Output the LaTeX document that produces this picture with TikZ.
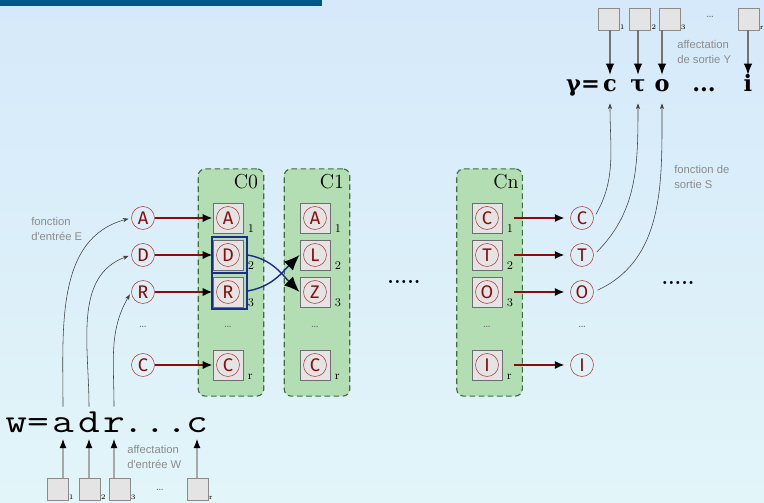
\documentclass[tikz,border=0pt]{standalone}
\usepackage{fontspec}
\usepackage{tikz}
\usetikzlibrary{arrows.meta,calc,positioning}
\newfontfamily\AutSans{Liberation Sans}
\newfontfamily\AutHand{Fira Sans}
\newfontfamily\AutGreek{DejaVu Serif}
\definecolor{AutSkyTop}{HTML}{D5E9FA}
\definecolor{AutSkyLow}{HTML}{E2F5F9}
\definecolor{AutBar}{HTML}{00578A}
\definecolor{AutGreen}{HTML}{B3DEB3}
\definecolor{AutGreenEdge}{HTML}{3E6E3E}
\definecolor{AutCellFill}{HTML}{E4E4E4}
\definecolor{AutCellEdge}{HTML}{6E6E6E}
\definecolor{AutRed}{HTML}{8C0C0C}
\definecolor{AutRedLine}{HTML}{B23A3A}
\definecolor{AutNavy}{HTML}{1C2C8C}
\definecolor{AutNote}{HTML}{8C8C8C}
\definecolor{AutShaft}{HTML}{A8A8A8}
\tikzset{
  cbox/.style={draw=AutGreenEdge,line width=0.8pt,dash pattern=on 4pt off 2.5pt,fill=AutGreen,rounded corners=5pt,minimum width=1.64cm,minimum height=5.68cm,inner sep=0pt},
  cname/.style={font=\fontsize{14.4}{14.4}\selectfont},
  cell/.style={draw=AutCellEdge,fill=AutCellFill,minimum size=0.76cm,inner sep=0pt},
  ltr/.style={circle,draw=AutRedLine,text=AutRed,minimum size=0.575cm,inner sep=0pt,font=\AutHand\fontsize{13}{13}\selectfont},
  idx/.style={anchor=south west,inner sep=0.5pt,xshift=2.5pt,font=\fontsize{8.5}{8.5}\selectfont},
  slot/.style={draw=AutCellEdge!80,fill=AutCellFill,minimum width=0.52cm,minimum height=0.55cm,inner sep=0pt},
  sidx/.style={anchor=south west,inner sep=0.3pt,font=\fontsize{5}{5}\selectfont},
  vdots/.style={text=black!60,font=\fontsize{8}{8}\selectfont},
  hdots/.style={font=\bfseries\fontsize{15}{15}\selectfont},
  note/.style={anchor=north west,align=left,text=AutNote,inner sep=0pt,font=\AutSans\fontsize{8}{10.7}\selectfont},
  wch/.style={anchor=base,inner sep=1pt,text height=17.5pt,text depth=2.5pt,font=\ttfamily\fontsize{24}{24}\selectfont},
  ych/.style={anchor=base,inner sep=2pt,text height=10pt,text depth=6pt,font=\AutGreek\bfseries\fontsize{16}{16}\selectfont},
  redarr/.style={draw=AutRed,line width=1.6pt,-{Latex[length=7pt,width=6pt,color=black]}},
  bluearr/.style={draw=AutNavy,line width=1pt,-{Latex[length=11pt,width=9pt,color=black]}},
  bluebox/.style={draw=AutNavy,line width=0.9pt,minimum width=0.875cm,minimum height=0.9cm,inner sep=0pt},
  inarr/.style={draw=AutShaft,line width=1.4pt,-{Latex[length=7pt,width=5pt,color=black]}},
  outarr/.style={draw=black!55,line width=0.8pt,-{Latex[length=8pt,width=6pt,color=black]}},
  fnarr/.style={draw=black!75,line width=0.4pt,-{Stealth[length=4pt,width=3pt]}}
}
\newcommand{\AutCell}[5]{%
  \node[cell] (#1) at (#2,#3) {};
  \node[ltr] (#1l) at (#1) {#4};
  \node[idx] (#1i) at (#1.south east) {#5};}
\newcommand{\AutSlot}[4]{%
  \node[slot] (#1) at (#2,#3) {};
  \node[sidx] (#1i) at (#1.south east) {#4};}
\newcommand{\AutWide}[1]{\scalebox{1.25}[1]{#1}}

\begin{document}
\begin{tikzpicture}[x=0.025cm,y=0.025cm]
  \shade[top color=AutSkyTop,bottom color=AutSkyLow] (0,0) rectangle (764,503);
  \useasboundingbox (0,0) rectangle (764,503);
  \fill[AutBar] (0,497) rectangle (322,503);

  \node[cbox] (C0) at (231,220.5) {};
  \node[cbox] (C1) at (317,220.5) {};
  \node[cbox] (Cn) at (489.5,220.5) {};
  \node[cname] (C0t) at (246,321) {C0};
  \node[cname] (C1t) at (332,321) {C1};
  \node[cname] (Cnt) at (506,321) {Cn};

  \AutCell{c0-1}{228}{285}{A}{1}
  \AutCell{c0-2}{228}{248}{D}{2}
  \AutCell{c0-3}{228}{211}{R}{3}
  \AutCell{c0-r}{228}{138}{C}{r}
  \node[vdots] (c0dots) at (228,176) {\dots};
  \node[bluebox] (blueD) at (229.5,248) {};
  \node[bluebox] (blueR) at (229.5,212) {};

  \AutCell{c1-1}{315}{285}{A}{1}
  \AutCell{c1-2}{315}{248}{L}{2}
  \AutCell{c1-3}{315}{211}{Z}{3}
  \AutCell{c1-r}{315}{138}{C}{r}
  \node[vdots] (c1dots) at (315,176) {\dots};

  \AutCell{cn-1}{487}{285}{C}{1}
  \AutCell{cn-2}{487}{248}{T}{2}
  \AutCell{cn-3}{487}{211}{O}{3}
  \AutCell{cn-r}{487}{138}{I}{r}
  \node[vdots] (cndots) at (487,176) {\dots};

  \node[ltr] (inA) at (143,285) {A};
  \node[ltr] (inD) at (143,248) {D};
  \node[ltr] (inR) at (143,211) {R};
  \node[ltr] (inC) at (143,138) {C};
  \node[vdots] (indots) at (143,176) {\dots};
  \draw[redarr] (inA) -- (c0-1);
  \draw[redarr] (inD) -- (c0-2);
  \draw[redarr] (inR) -- (c0-3);
  \draw[redarr] (inC) -- (c0-r);

  \node[ltr] (outC) at (582,285) {C};
  \node[ltr] (outT) at (582,248) {T};
  \node[ltr] (outO) at (582,211) {O};
  \node[ltr] (outI) at (582,138) {I};
  \node[vdots] (outdots) at (582,176) {\dots};
  \draw[redarr,shorten <=8pt,shorten >=4pt] (cn-1) -- (outC);
  \draw[redarr,shorten <=8pt,shorten >=4pt] (cn-2) -- (outT);
  \draw[redarr,shorten <=8pt,shorten >=4pt] (cn-3) -- (outO);
  \draw[redarr,shorten <=8pt,shorten >=4pt] (cn-r) -- (outI);

  \draw[bluearr] (blueD.east) to[out=-10,in=135] (c1-3.west);
  \draw[bluearr] (blueR.east) to[out=10,in=225] (c1-2.west);

  \node[hdots] (middots) at (404,221) {.....};
  \node[hdots] (rightdots) at (678,220) {.....};

  \node[wch] (wEq) at (27,70) {\AutWide{w=}};
  \node[wch] (wa) at (63,70) {\AutWide{a}};
  \node[wch] (wd) at (89,70) {\AutWide{d}};
  \node[wch] (wr) at (114,70) {\AutWide{r}};
  \node[wch] (wDots) at (155,70) {\AutWide{...}};
  \node[wch] (wc) at (197,70) {\AutWide{c}};
  \AutSlot{ws1}{57.5}{14}{1}
  \AutSlot{ws2}{89.5}{14}{2}
  \AutSlot{ws3}{119.5}{14}{3}
  \AutSlot{wsr}{197.5}{14}{r}
  \node[vdots] (wsdots) at (160,13) {\dots};
  \draw[inarr] (ws1.north -| wa) -- (wa.south);
  \draw[inarr] (ws2.north -| wd) -- (wd.south);
  \draw[inarr] (ws3.north -| wr) -- (wr.south);
  \draw[inarr] (wsr.north -| wc) -- (wc.south);
  \draw[fnarr,shorten >=2pt] (wa.north) to[out=90,in=195] (inA.west);
  \draw[fnarr,shorten >=2pt] (wd.north) to[out=90,in=200] (inD.west);
  \draw[fnarr,shorten >=2pt] (wr.north) to[out=90,in=240] (inR.west);

  \node[ych] (yEq) at (583,411) {γ=};
  \node[ych] (yc) at (610,411) {c};
  \node[ych] (yt) at (638,411) {τ};
  \node[ych] (yo) at (662,411) {o};
  \node[ych] (yDots) at (704,411) {...};
  \node[ych] (yi) at (748,411) {i};
  \AutSlot{ys1}{608.5}{484}{1}
  \AutSlot{ys2}{640}{484}{2}
  \AutSlot{ys3}{669.5}{484}{3}
  \AutSlot{ysr}{748.5}{484}{r}
  \node[vdots] (ysdots) at (710,486) {\dots};
  \draw[outarr] (ys1.south -| yc) -- (yc.north);
  \draw[outarr] (ys2.south -| yt) -- (yt.north);
  \draw[outarr] (ys3.south -| yo) -- (yo.north);
  \draw[outarr] (ysr.south -| yi) -- (yi.north);
  \draw[fnarr,shorten <=3pt] (outC.east) to[out=60,in=-90] (yc.south);
  \draw[fnarr,shorten <=3pt] (outT.east) to[out=45,in=-90] (yt.south);
  \draw[fnarr,shorten <=3pt] (outO.east) to[out=25,in=-90] (yo.south);

  \node[note] (noteE) at (31,286) {fonction\\d'entrée E};
  \node[note] (noteW) at (127,58) {affectation\\d'entrée W};
  \node[note] (noteS) at (674,338) {fonction de\\sortie S};
  \node[note] (noteY) at (677,463) {affectation\\de sortie Y};
\end{tikzpicture}
\end{document}
